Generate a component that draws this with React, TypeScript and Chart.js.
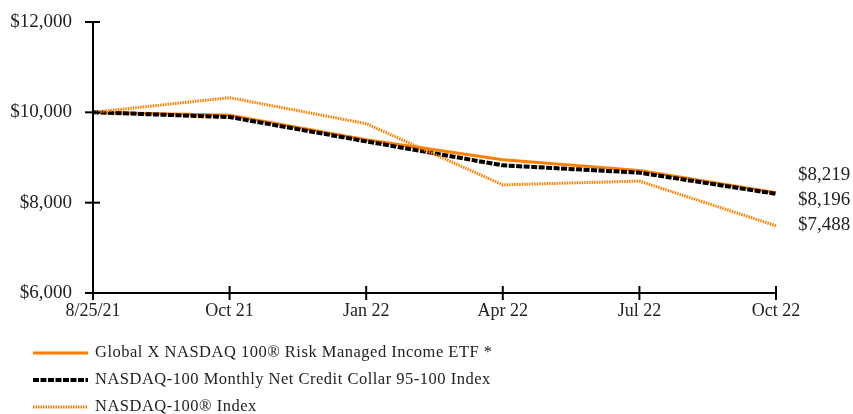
import React, { useEffect, useRef } from "react";
import { Chart, registerables } from "chart.js";

Chart.register(...registerables);

const categories = ["8/25/21", "Oct 21", "Jan 22", "Apr 22", "Jul 22", "Oct 22"];
const etfValues = [10000, 9934, 9395, 8952, 8715, 8219];
const collarValues = [10000, 9896, 9357, 8826, 8664, 8196];
const ndxValues = [10000, 10325, 9749, 8394, 8478, 7488];
const seriesNames = [
  "Global X NASDAQ 100\u00AE Risk Managed Income ETF *",
  "NASDAQ-100 Monthly Net Credit Collar 95-100 Index",
  "NASDAQ-100\u00AE Index",
];
const endLabels = ["$8,219", "$8,196", "$7,488"];

const ORANGE = "#ff8000";
const FONT = "'Liberation Serif', 'Times New Roman', serif";

const fmt = (v: number) => "$" + v.toLocaleString("en-US");

export default function App() {
  const ref = useRef<HTMLCanvasElement | null>(null);

  useEffect(() => {
    document.body.style.margin = "0";
    const canvas = ref.current!;
    const styles = [
      { color: ORANGE, width: 3, dash: [] as number[] },
      { color: "#000000", width: 4, dash: [6, 1.5] },
      { color: ORANGE, width: 3, dash: [1.5, 1] },
    ];

    const extras = {
      id: "extras",
      afterDraw(chart: any) {
        const ctx = chart.ctx;
        const x = chart.scales.x;
        const y = chart.scales.y;
        const ca = chart.chartArea;
        ctx.save();
        ctx.strokeStyle = "#000";
        ctx.lineWidth = 2;
        // axes
        ctx.beginPath();
        ctx.moveTo(ca.left, ca.top);
        ctx.lineTo(ca.left, ca.bottom);
        ctx.lineTo(ca.right, ca.bottom);
        ctx.stroke();
        // crossing tick marks
        x.ticks.forEach((_: any, i: number) => {
          const px = x.getPixelForTick(i);
          ctx.beginPath();
          ctx.moveTo(px, ca.bottom - 7);
          ctx.lineTo(px, ca.bottom + 7);
          ctx.stroke();
        });
        ctx.fillStyle = "#222";
        ctx.font = "19px " + FONT;
        ctx.textAlign = "right";
        ctx.textBaseline = "middle";
        y.ticks.forEach((t: any, i: number) => {
          const py = y.getPixelForTick(i);
          ctx.beginPath();
          ctx.moveTo(ca.left - 8, py);
          ctx.lineTo(ca.left + 7, py);
          ctx.stroke();
          ctx.fillText(fmt(Number(t.value)), ca.left - 21, py);
        });
        // end labels, stacked upward from the lowest final value
        const last = categories.length - 1;
        const vals = [etfValues[last], collarValues[last], ndxValues[last]];
        const order = vals.map((v, i) => i).sort((a, b) => vals[b] - vals[a]);
        const baseY = y.getPixelForValue(vals[order[order.length - 1]]) - 1;
        ctx.textAlign = "left";
        order.forEach((i, k) => {
          ctx.fillText(endLabels[i], ca.right + 22, baseY - 25 * (order.length - 1 - k));
        });
        // legend
        const rows = [353, 380, 407];
        ctx.font = "16.5px " + FONT;
        (ctx as any).letterSpacing = "0.5px";
        rows.forEach((ry, i) => {
          const s = styles[i];
          ctx.save();
          ctx.strokeStyle = s.color;
          ctx.lineWidth = s.width;
          ctx.setLineDash(s.dash);
          ctx.beginPath();
          ctx.moveTo(33, ry);
          ctx.lineTo(88, ry);
          ctx.stroke();
          ctx.restore();
          ctx.fillStyle = "#222";
          ctx.fillText(seriesNames[i], 95, ry);
        });
        ctx.restore();
      },
    };

    const mk = (label: string, data: number[], i: number, order: number) => ({
      label,
      data,
      borderColor: styles[i].color,
      borderWidth: styles[i].width,
      borderDash: styles[i].dash,
      pointRadius: 0,
      tension: 0,
      fill: false,
      order,
    });

    const chart = new Chart(canvas, {
      type: "line",
      data: {
        labels: categories,
        datasets: [
          mk(seriesNames[0], etfValues, 0, 2),
          mk(seriesNames[1], collarValues, 1, 1),
          mk(seriesNames[2], ndxValues, 2, 0),
        ],
      },
      options: {
        animation: false,
        responsive: false,
        events: [],
        layout: { padding: { left: 0, top: 22, right: 77, bottom: 0 } },
        plugins: { legend: { display: false }, tooltip: { enabled: false } },
        scales: {
          x: {
            offset: false,
            grid: { display: false, drawTicks: false },
            border: { display: false },
            ticks: {
              color: "#222",
              font: { family: FONT, size: 18 },
              padding: 7,
              maxRotation: 0,
              autoSkip: false,
            },
            afterFit: (s: any) => {
              s.height = 121;
            },
          },
          y: {
            min: 6000,
            max: 12000,
            grid: { display: false, drawTicks: false },
            border: { display: false },
            ticks: {
              stepSize: 2000,
              color: "rgba(0,0,0,0)",
              font: { family: FONT, size: 19 },
              padding: 0,
              callback: (v: any) => fmt(Number(v)),
            },
            afterFit: (s: any) => {
              s.width = 93;
            },
          },
        },
      },
      plugins: [extras],
    });
    return () => chart.destroy();
  }, []);

  return (
    <div style={{ position: "fixed", left: 0, top: 0, width: 853, height: 414 }}>
      <canvas ref={ref} width={853} height={414} style={{ width: 853, height: 414 }} />
    </div>
  );
}
